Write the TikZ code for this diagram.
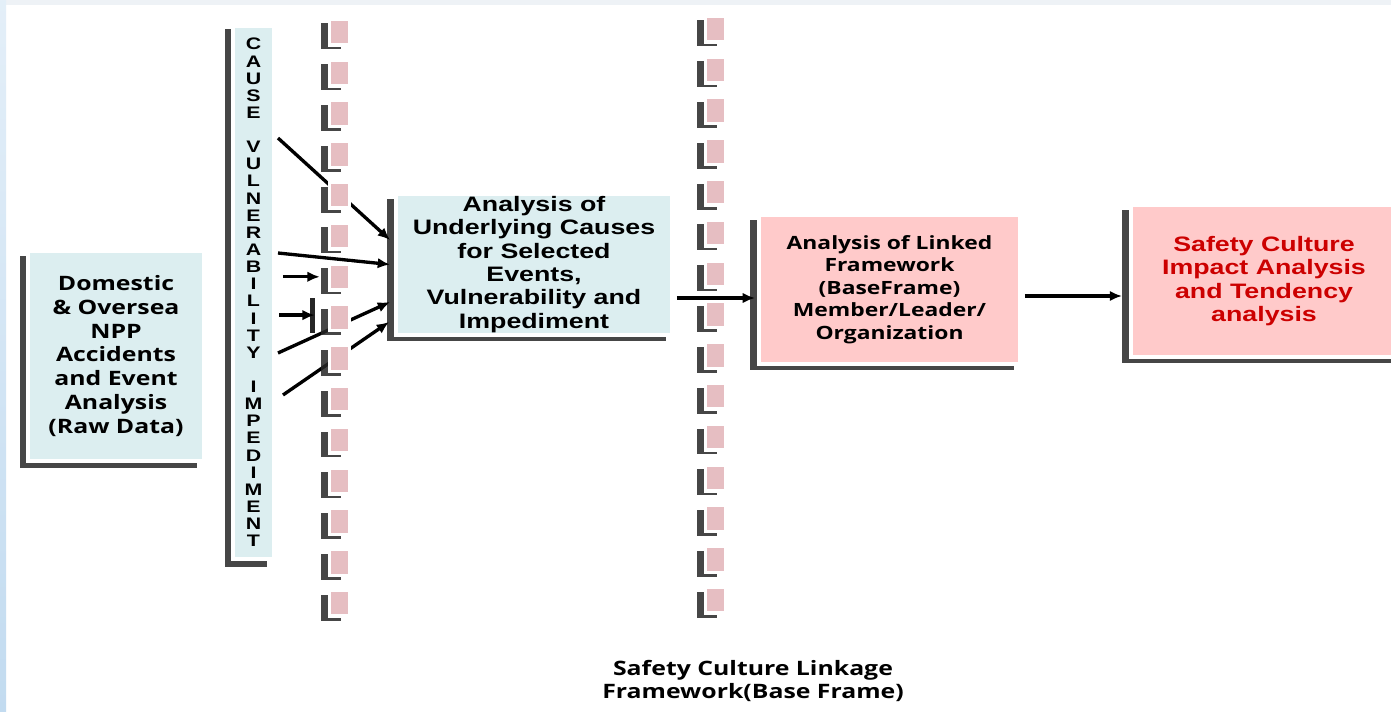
\documentclass[tikz,border=0pt]{standalone}
\usepackage{fontspec}
\usepackage{tikz}
\usetikzlibrary{arrows.meta,calc,positioning,shadows}
\setmainfont{Open Sans}[FakeStretch=1.25]
\newfontfamily\arialfont{Liberation Sans}[FakeStretch=1.28]

\definecolor{cyanfill}{HTML}{DCEEF0}
\definecolor{pinkfill}{HTML}{FFCACA}
\definecolor{tinyfill}{HTML}{E6BEC2}
\definecolor{redtext}{HTML}{CC0000}
\definecolor{stripblue}{HTML}{C2DBF0}
\definecolor{topstrip}{HTML}{EEF2F6}

\tikzset{%
	boxshadow/.style = {drop shadow={shadow xshift=-0.15cm, shadow yshift=-0.11cm, shadow scale=1.01, fill=black!85, opacity=0.85}},
	block/.style     = {rectangle, draw=white, line width=0.08cm, inner sep=0pt, align=center, boxshadow},
	cyanblock/.style = {block, fill=cyanfill},
	pinkblock/.style = {block, fill=pinkfill},
	tinybox/.style   = {rectangle, draw=white, line width=0.07cm, fill=tinyfill, minimum width=0.4cm, minimum height=0.52cm,
		drop shadow={shadow xshift=-0.17cm, shadow yshift=-0.09cm, fill=black!85, opacity=0.85}}, % small marker
	link/.style      = {->, line width=1.9pt},
	gothic/.style    = {font=\fontsize{11.3}{13.6}\selectfont\bfseries},
	arial/.style     = {font=\arialfont\fontsize{11.9}{13.3}\selectfont\bfseries},
}

\begin{document}
\begin{tikzpicture}[x=0.02cm, y=-0.02cm, >={Latex[length=7pt,width=6pt]}]
	% page ground with the pale strips
	\fill[white] (0,0) rectangle (1391,712);
	\fill[topstrip] (0,0) rectangle (1391,5);
	\shade[top color=stripblue!45, bottom color=stripblue] (0,0) rectangle (6,712);
	\useasboundingbox (0,0) rectangle (1391,712);

	\node[cyanblock, gothic, minimum width=3.52cm, minimum height=4.2cm] (raw) at (116,356)
		{Domestic\\ \& Oversea\\ NPP\\ Accidents\\ and Event\\ Analysis\\ (Raw Data)};
	\node[cyanblock, minimum width=0.82cm, minimum height=10.66cm, font=\arialfont\fontsize{9.5}{9.75}\selectfont\bfseries] (cvi) at (253.5,292.5)
		{C\\A\\U\\S\\E\\~\\V\\U\\L\\N\\E\\R\\A\\B\\I\\L\\I\\T\\Y\\~\\I\\M\\P\\E\\D\\I\\M\\E\\N\\T};
	\node[cyanblock, arial, minimum width=5.52cm, minimum height=2.82cm] (an) at (534,264.5)
		{Analysis of\\ Underlying Causes\\ for Selected\\ Events,\\ Vulnerability and\\ Impediment};
	\node[pinkblock, font=\fontsize{10.4}{12.75}\selectfont\bfseries, minimum width=5.22cm, minimum height=2.98cm] (lf) at (889.5,289.5)
		{Analysis of Linked\\ Framework\\ (BaseFrame)\\ Member/Leader/\\ Organization};
	\node[pinkblock, arial, text=redtext, minimum width=5.32cm, minimum height=3.04cm] (sc) at (1264,281)
		{Safety Culture\\ Impact Analysis\\ and Tendency\\ analysis};

	% causes into the analysis block
	\draw[link] ($(cvi.east)+(0.04cm,3.09cm)$) -- ($(an.west)+(-0.08cm,0.49cm)$);
	\draw[link] ($(cvi.east)+(0.04cm,0.79cm)$) -- ($(an.west)+(-0.08cm,0)$);
	\draw[link] ($(cvi.east)+(0.04cm,-1.21cm)$) -- ($(an.west)+(-0.08cm,-0.75cm)$);
	\draw[link] ($(cvi.east)+(0.14cm,-2.05cm)$) -- ($(an.west)+(-0.1cm,-1.15cm)$);
	\draw[link] ($(an.east)+(0.06cm,-0.67cm)$) -- ($(an.east -| lf.west)+(-0.04cm,-0.67cm)$);
	\draw[link] ($(lf.east)+(0.06cm,-0.13cm)$) -- ($(lf.east -| sc.west)+(-0.14cm,-0.13cm)$);

	% the two columns of markers
	\foreach \i in {1,...,15} {
		\node[tinybox] (sqa\i) at (339.5,{32+40.8*(\i-1)}) {};
		\node[tinybox] (sqb\i) at (715.5,{29+40.8*(\i-1)}) {};
	}
	\fill[black!85] (310,298) rectangle (315,333);

	\draw[link] ($(cvi.east |- sqa7)+(0.14cm,0)$) -- ($(sqa7.west)+(-0.16cm,0)$);
	\draw[link] ($(cvi.east |- sqa8)+(0.06cm,0.05cm)$) -- ($(sqa8.west)+(-0.26cm,0.05cm)$);

	\node[gothic, align=center, font=\fontsize{11.3}{13}\selectfont\bfseries] (cap) at (753,681)
		{Safety Culture Linkage\\ Framework(Base Frame)};
\end{tikzpicture}
\end{document}
